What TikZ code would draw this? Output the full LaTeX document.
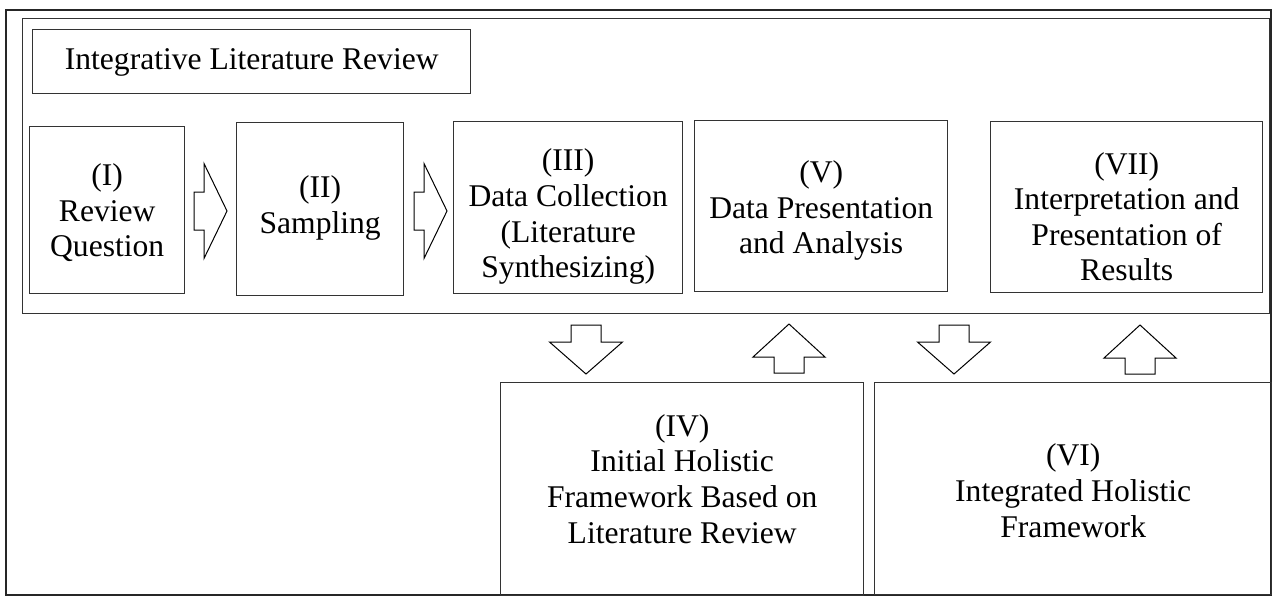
\documentclass[tikz,border=0pt]{standalone}
\usepackage{fontspec}
\setmainfont{Liberation Serif}
\begin{document}
\begin{tikzpicture}[x=0.5pt,y=-0.5pt,
  frame/.style={draw=black!85,line width=0.8pt},
  box/.style={draw=black!80,line width=0.7pt,anchor=north west,inner sep=0pt},
  txt/.style={align=center,inner sep=0pt,font=\fontsize{15.8}{17.8}\selectfont},
  rarrow/.pic={\draw[line width=0.5pt,line join=miter] (0,-19)--(10,-19)--(10,-47.5)--(33,0)--(10,47.5)--(10,19)--(0,19)--cycle;},
  darrow/.pic={\draw[line width=0.5pt,line join=miter] (-15,0)--(15,0)--(15,17)--(36.5,17)--(0,49)--(-36.5,17)--(-15,17)--cycle;},
  uarrow/.pic={\draw[line width=0.5pt,line join=miter] (-15,0)--(15,0)--(15,-16)--(36,-16)--(0,-49)--(-36,-16)--(-15,-16)--cycle;}
]
\useasboundingbox (0,0) rectangle (1273,600);
% outer frame
\draw[frame] (6,10) rectangle (1271,595);
% container
\node[box,minimum width=623.5pt,minimum height=147.5pt] (cont) at (22,18) {};
% title
\node[box,minimum width=219pt,minimum height=32pt] (title) at (32,29) {};
\node[txt] (titletxt) at ([yshift=-0.5pt]title.center) {Integrative Literature Review};
% top row
\node[box,minimum width=77.5pt,minimum height=83.5pt] (b1) at (29,126) {};
\node[box,minimum width=83.5pt,minimum height=86.5pt] (b2) at (236,122) {};
\node[box,minimum width=114.5pt,minimum height=86pt] (b3) at (453,121) {};
\node[box,minimum width=126.5pt,minimum height=85.5pt] (b5) at (694,120) {};
\node[box,minimum width=136pt,minimum height=85.5pt] (b7) at (990,121) {};
% bottom row
\node[box,minimum width=181.5pt,minimum height=106.5pt] (b4) at (500,382) {};
\node[box,minimum width=198.5pt,minimum height=106pt] (b6) at (874,382) {};
% texts
\node[txt] (t1) at ([yshift=-1.2pt]b1.center) {(I)\\Review\\Question};
\node[txt] (t2) at ([yshift=0.5pt]b2.center) {(II)\\Sampling};
\node[txt] (t3) at ([yshift=-4.5pt]b3.center) {(III)\\Data Collection\\(Literature\\Synthesizing)};
\node[txt] (t5) at ([yshift=-2.2pt]b5.center) {(V)\\Data Presentation\\and Analysis};
\node[txt] (t7) at ([yshift=-4.7pt]b7.center) {(VII)\\Interpretation and\\Presentation of\\Results};
\node[txt] (t4) at ([yshift=5.2pt]b4.center) {(IV)\\Initial Holistic\\Framework Based on\\Literature Review};
\node[txt] (t6) at ([yshift=-1pt]b6.center) {(VI)\\Integrated Holistic\\Framework};
% block arrows
\coordinate (a1) at (194,211);
\coordinate (a2) at (414,211);
\coordinate (a3) at (586,325);
\coordinate (a4) at (789,373);
\coordinate (a5) at (954,325);
\coordinate (a6) at (1140,374);
\pic at (a1) {rarrow};
\pic at (a2) {rarrow};
\pic at (a3) {darrow};
\pic at (a4) {uarrow};
\pic at (a5) {darrow};
\pic at (a6) {uarrow};
\end{tikzpicture}
\end{document}
